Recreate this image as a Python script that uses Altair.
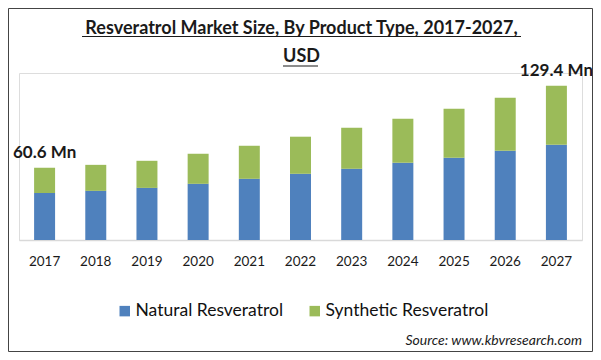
import altair as alt
import pandas as pd

years = ["2017", "2018", "2019", "2020", "2021", "2022", "2023", "2024", "2025", "2026", "2027"]
natural = [39.5, 41.2, 43.7, 47.1, 51.3, 55.5, 59.7, 64.7, 68.9, 74.8, 79.8]
synthetic = [21.1, 21.8, 22.7, 25.2, 27.7, 31.1, 34.4, 37.0, 41.2, 44.5, 49.6]
series = ["Natural Resveratrol", "Synthetic Resveratrol"]
colors = ["#4f81bd", "#9bbb59"]
label_years = ["2017", "2027"]
label_texts = ["60.6 Mn", "129.4 Mn"]
title_lines = ["Resveratrol Market Size, By Product Type, 2017-2027,", "USD"]
source_text = "Source: www.kbvresearch.com"

FONT = "Lato"

rows = []
for i, y in enumerate(years):
    rows.append({"year": y, "series": series[0], "value": natural[i], "ord": 0})
    rows.append({"year": y, "series": series[1], "value": synthetic[i], "ord": 1})
df = pd.DataFrame(rows)

totals = {y: natural[i] + synthetic[i] for i, y in enumerate(years)}
lab_df = pd.DataFrame({"year": label_years, "total": [totals[y] for y in label_years], "text": label_texts})

W, H = 563, 167

xenc = alt.X("year:N", sort=years, title=None,
             scale=alt.Scale(paddingInner=0.59, paddingOuter=0.295),
             axis=alt.Axis(labelAngle=0, ticks=False, domainColor="#d9d9d9", domainWidth=1.5,
                           labelFont=FONT, labelFontSize=13.5, labelColor="#1a1a1a", labelPadding=14))

bars = alt.Chart(df).mark_bar().encode(
    x=xenc,
    y=alt.Y("value:Q", stack="zero", scale=alt.Scale(domain=[0, 140], nice=False), axis=None),
    color=alt.Color("series:N", scale=alt.Scale(domain=series, range=colors),
                    legend=alt.Legend(title=None, orient="none", legendX=97, legendY=229,
                                      direction="horizontal", symbolType="square", symbolSize=110,
                                      symbolStrokeWidth=0, symbolOpacity=1, labelFont=FONT,
                                      labelFontSize=17.5, labelColor="#111111", labelOffset=2,
                                      columnPadding=22, labelLimit=300)),
    order=alt.Order("ord:Q"),
)

ann = alt.Chart(lab_df).mark_text(font=FONT, fontSize=17, fontWeight="bold", color="#1a1a1a",
                                  baseline="middle", dy=-15).encode(
    x=alt.X("year:N", sort=years),
    y=alt.Y("total:Q"),
    text="text:N",
)

one = alt.Data(values=[{"a": 1}])

t1 = alt.Chart(one).mark_text(text=title_lines[0], font=FONT, fontSize=18, fontWeight="bold",
                              color="#1a1a1a", baseline="middle", align="center").encode(
    x=alt.value(282.5), y=alt.value(-44))
t2 = alt.Chart(one).mark_text(text=title_lines[1], font=FONT, fontSize=18, fontWeight="bold",
                              color="#1a1a1a", baseline="middle", align="center").encode(
    x=alt.value(282.5), y=alt.value(-16))
u1 = alt.Chart(one).mark_rule(color="#1a1a1a", strokeWidth=1.2).encode(
    x=alt.value(63), x2=alt.value(502), y=alt.value(-36.5))
u2 = alt.Chart(one).mark_rule(color="#1a1a1a", strokeWidth=1.2).encode(
    x=alt.value(264), x2=alt.value(299), y=alt.value(-7))
src = alt.Chart(one).mark_text(text=source_text, font=FONT, fontSize=14, fontStyle="italic",
                               color="#1a1a1a", baseline="middle", align="right").encode(
    x=alt.value(563), y=alt.value(268))
border = alt.Chart(one).mark_rect(fill=None, stroke="#444444", strokeWidth=1).encode(
    x=alt.value(-10.5), x2=alt.value(573.5), y=alt.value(-64.5), y2=alt.value(278.5))

chart = alt.layer(bars, ann, t1, t2, u1, u2, src, border).properties(
    width=W, height=H,
    autosize=alt.AutoSizeParams(type="none"),
    padding={"left": 11, "top": 65, "right": 11, "bottom": 112},
).configure_view(stroke=None).configure(background="white")

chart.save("out.html", embed_options={"renderer": "svg", "actions": False})
